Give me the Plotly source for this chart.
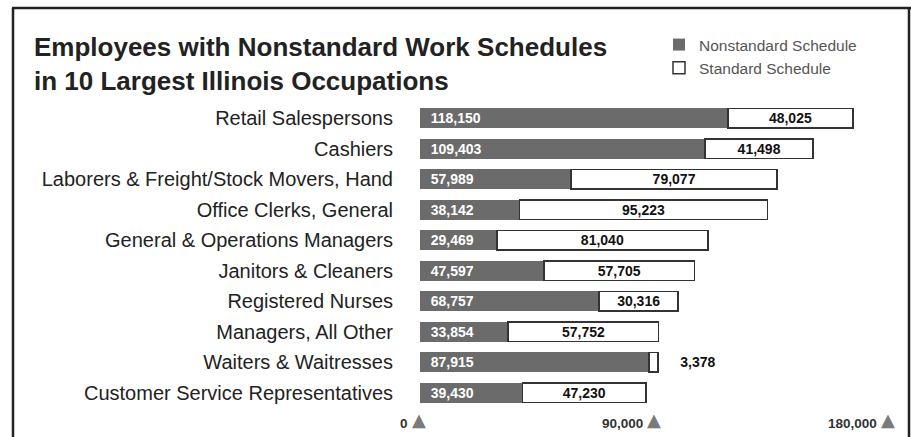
import plotly.graph_objects as go

# ---- data ----
occupations = [
    "Retail Salespersons",
    "Cashiers",
    "Laborers & Freight/Stock Movers, Hand",
    "Office Clerks, General",
    "General & Operations Managers",
    "Janitors & Cleaners",
    "Registered Nurses",
    "Managers, All Other",
    "Waiters & Waitresses",
    "Customer Service Representatives",
]
nonstandard = [118150, 109403, 57989, 38142, 29469, 47597, 68757, 33854, 87915, 39430]
standard = [48025, 41498, 79077, 95223, 81040, 57705, 30316, 57752, 3378, 47230]
tick_values = [0, 90000, 180000]
tick_labels = ["0", "90,000", "180,000"]

# ---- layout geometry (pixels) ----
W, H = 911, 437
L, R, T, B = 420, 22, 103, 29
PW, PH = W - L - R, H - T - B


def px2x(px):
    return (px - L) / PW


def py2y(py):
    return (H - B - py) / PH


FONT = "Liberation Sans, Arial, Helvetica, sans-serif"
NB = "\u00a0"

fig = go.Figure()
fig.add_trace(go.Bar(
    name="Nonstandard Schedule",
    y=occupations, x=nonstandard, orientation="h",
    marker=dict(color="#6b6b6b", line=dict(width=0)),
    text=[NB * 2 + f"{v:,}" for v in nonstandard],
    textposition="inside", insidetextanchor="start", constraintext="none",
    textfont=dict(color="white", size=14, family=FONT, weight="bold"),
    hoverinfo="skip",
))
fig.add_trace(go.Bar(
    name="Standard Schedule",
    y=occupations, x=standard, orientation="h",
    marker=dict(color="white", line=dict(color="#333333", width=1.5)),
    text=[(NB * 5 + f"{v:,}") if v < 10000 else f"{v:,}" for v in standard],
    textposition=["outside" if v < 10000 else "inside" for v in standard],
    insidetextanchor="middle", constraintext="none",
    textfont=dict(color="#111111", size=14, family=FONT, weight="bold"),
    insidetextfont=dict(color="#111111", size=14, family=FONT, weight="bold"),
    outsidetextfont=dict(color="#111111", size=14, family=FONT, weight="bold"),
    cliponaxis=False,
    hoverinfo="skip",
))

annotations = [
    dict(
        text="<b>Employees with Nonstandard Work Schedules<br>in 10 Largest Illinois Occupations</b>",
        xref="paper", yref="paper", x=px2x(32), y=py2y(30),
        xanchor="left", yanchor="top", align="left", showarrow=False,
        font=dict(size=26, color="#222222", family=FONT),
    )
]
for v, lab in zip(tick_values, tick_labels):
    annotations.append(dict(
        text=f"<b>{lab}</b>",
        xref="x", yref="paper", x=v, y=py2y(423),
        xanchor="right", yanchor="middle", xshift=-10, showarrow=False,
        font=dict(size=13.5, color="#333333", family=FONT),
    ))
    annotations.append(dict(
        text="▲",
        xref="x", yref="paper", x=v, y=py2y(419),
        xanchor="center", yanchor="middle", xshift=-1, showarrow=False,
        font=dict(size=18, color="#7a7a7a", family="DejaVu Sans"),
    ))

frame_color = "#222222"
shapes = [
    dict(type="line", xref="paper", yref="paper", x0=px2x(13), x1=px2x(13),
         y0=py2y(8), y1=py2y(440), line=dict(color=frame_color, width=2.5)),
    dict(type="line", xref="paper", yref="paper", x0=px2x(12), x1=px2x(911),
         y0=py2y(8), y1=py2y(8), line=dict(color=frame_color, width=2.5)),
    dict(type="line", xref="paper", yref="paper", x0=px2x(909), x1=px2x(909),
         y0=py2y(8), y1=py2y(440), line=dict(color=frame_color, width=2.5)),
]

fig.update_layout(
    width=W, height=H,
    margin=dict(l=L, r=R, t=T, b=B, pad=0),
    paper_bgcolor="white", plot_bgcolor="white",
    barmode="stack", bargap=0.35,
    font=dict(family=FONT, color="#222222"),
    showlegend=True,
    legend=dict(
        x=px2x(659), y=py2y(28), xanchor="left", yanchor="top",
        traceorder="normal", bgcolor="rgba(0,0,0,0)",
        font=dict(size=15.5, color="#555555", family=FONT),
        itemwidth=30, tracegroupgap=0,
    ),
    xaxis=dict(range=[0, 180000], showgrid=False, zeroline=False,
               showticklabels=False, showline=False, ticks=""),
    yaxis=dict(categoryorder="array", categoryarray=occupations,
               autorange="reversed", showgrid=False, zeroline=False,
               showline=False, ticks="", ticklabelstandoff=26,
               tickfont=dict(size=20, color="#222222", family=FONT)),
    annotations=annotations,
    shapes=shapes,
)

fig.write_html(
    "out.html",
    config={"displayModeBar": False},
    post_script="document.body.style.margin='0';document.body.style.overflow='hidden';",
)
